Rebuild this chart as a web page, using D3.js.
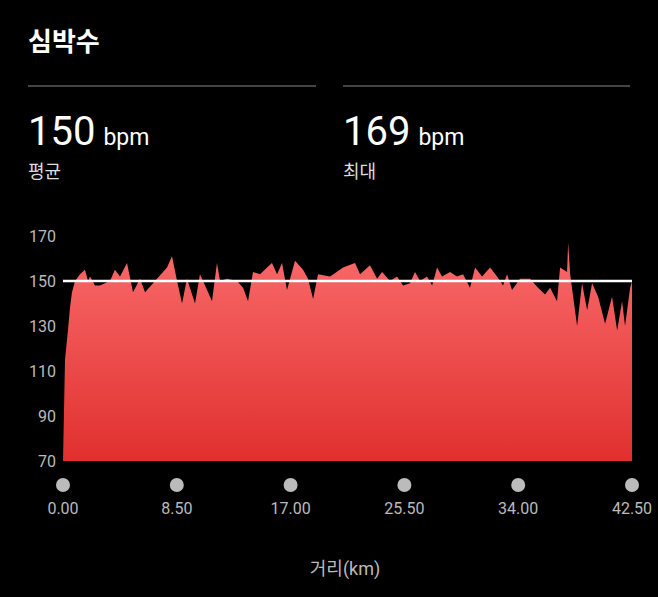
<!DOCTYPE html><html><head><meta charset="utf-8">
<script src="https://cdn.jsdelivr.net/npm/d3@7"></script>
<style>body{margin:0;background:#000}svg{display:block}text{font-family:Roboto,"Noto Sans CJK KR",sans-serif}</style></head><body>
<svg id="c" width="658" height="597"></svg>
<script>
const km=[0,0.15,0.37,0.52,0.67,0.90,1.27,1.64,1.87,2.02,2.39,2.76,3.51,3.88,4.26,4.78,5.23,5.75,6.13,7.02,7.77,8.14,8.52,8.89,9.26,9.86,10.23,10.76,11.13,11.50,11.73,12.25,13.00,13.45,13.82,14.19,14.72,15.24,15.61,15.99,16.36,16.73,17.33,17.93,18.30,18.68,19.05,19.95,20.92,21.81,22.19,22.93,23.46,23.83,24.43,24.95,25.40,25.92,26.29,26.67,27.19,27.57,27.94,28.31,28.91,29.43,29.88,30.40,30.78,31.30,31.90,32.42,32.87,33.17,33.54,34.14,34.88,35.48,36.01,36.38,36.90,37.13,37.65,37.73,37.88,38.40,38.77,39.15,39.52,39.97,40.49,41.01,41.39,41.76,41.98,42.36,42.50];
const bpm=[70,115,128,138,145,150,153,155,150,152,148,148,150,155,152,158,145,151,145,151,156,161,150,140,151,140,153,146,141,158,150,151,150,147,141,154,153,156,158,153,158,146,159,155,151,142,153,152,156,158,153,157,151,154,150,152,148,149,154,150,152,148,156,152,154,152,153,147,156,152,156,152,148,153,146,151,151,147,144,147,141,156,154,167,153,130,149,137,149,143,131,143,128,141,130,147,150];
const yTicks=[70,90,110,130,150,170];
const xTicks=[0,8.5,17,25.5,34,42.5];
const avg=150, maxV=169;
const svg=d3.select("#c");
const x=d3.scaleLinear().domain([0,42.5]).range([63,632]);
const y=d3.scaleLinear().domain([70,170]).range([461,236]);
const g=svg.append("defs").append("linearGradient").attr("id","gr").attr("x1",0).attr("x2",0).attr("y1",0).attr("y2",1);
g.append("stop").attr("offset","0%").attr("stop-color","#fa6b6b");
g.append("stop").attr("offset","100%").attr("stop-color","#e0302f");
svg.append("text").attr("x",28).attr("y",51).attr("fill","#fff").attr("font-size",26).attr("font-weight","bold").text("심박수");
svg.append("line").attr("x1",28).attr("x2",316).attr("y1",86).attr("y2",86).attr("stroke","#444").attr("stroke-width",2);
svg.append("line").attr("x1",343).attr("x2",630).attr("y1",86).attr("y2",86).attr("stroke","#444").attr("stroke-width",2);
[[28,avg,"평균"],[343,maxV,"최대"]].forEach(([px,v,l])=>{
 const t=svg.append("text").attr("x",px).attr("y",145).attr("fill","#fff");
 t.append("tspan").attr("font-size",40).text(v);
 t.append("tspan").attr("font-size",23).attr("dx",8).text("bpm");
 svg.append("text").attr("x",px).attr("y",178).attr("fill","#ddd").attr("font-size",18).text(l);
});
const data=km.map((k,i)=>[k,bpm[i]]);
svg.append("path").datum(data).attr("fill","url(#gr)")
 .attr("d",d3.area().x(d=>x(d[0])).y0(y(70)).y1(d=>y(d[1])));
svg.append("line").attr("x1",x(0)).attr("x2",x(42.5)).attr("y1",y(avg)).attr("y2",y(avg)).attr("stroke","#fff").attr("stroke-width",2.5);
svg.selectAll(".yt").data(yTicks).join("text").attr("x",56).attr("y",d=>y(d)+6).attr("text-anchor","end").attr("fill","#bbb").attr("font-size",16).text(d=>d);
svg.selectAll(".dot").data(xTicks).join("circle").attr("cx",d=>x(d)).attr("cy",485).attr("r",7).attr("fill","#bbb");
svg.selectAll(".xt").data(xTicks).join("text").attr("x",d=>x(d)).attr("y",514).attr("text-anchor","middle").attr("fill","#bbb").attr("font-size",16).text(d=>d.toFixed(2));
svg.append("text").attr("x",345).attr("y",575).attr("text-anchor","middle").attr("fill","#bbb").attr("font-size",18).text("거리(km)");
</script></body></html>
